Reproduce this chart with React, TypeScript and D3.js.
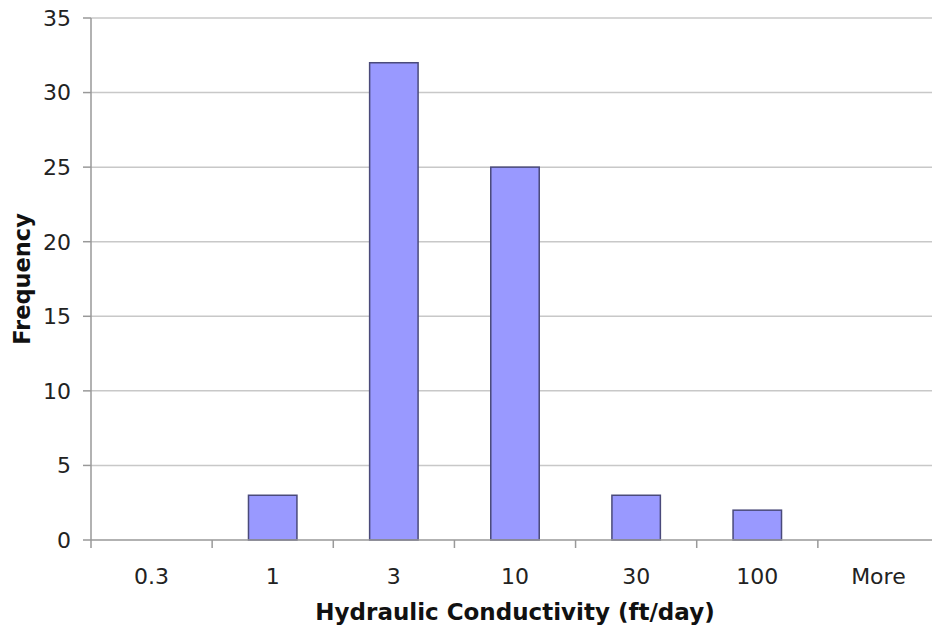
import * as d3 from 'd3';
import React from 'react';

// histogram bins and counts
const bins: string[] = ['0.3', '1', '3', '10', '30', '100', 'More'];
const counts: number[] = [0, 3, 32, 25, 3, 2, 0];
const yTicks: number[] = [0, 5, 10, 15, 20, 25, 30, 35];

const width = 932;
const height = 630;
const marginLeft = 91;
const marginTop = 18;
const plotBottom = 540;
const plotRight = 939; // plot runs a little past the right edge

const App: React.FC = () => {
    const x = d3.scaleBand<string>().domain(bins).range([marginLeft, plotRight]).paddingInner(0.6).paddingOuter(0.3);
    const xEdge = d3.scaleLinear().domain([0, bins.length]).range([marginLeft, plotRight]);
    const y = d3.scaleLinear().domain([0, 35]).range([plotBottom, marginTop]);

    const font = 'Verdana, "DejaVu Sans", sans-serif';

    return (
        <svg width={width} height={height} style={{ position: 'absolute', left: 0, top: 0, background: '#fff' }}>
            {/* grid */}
            <g stroke="#c8c8c8" strokeWidth={1.5}>
                {yTicks.filter((t) => t > 0).map((t) => (
                    <line key={t} x1={marginLeft} x2={width} y1={y(t)} y2={y(t)} />
                ))}
            </g>
            {/* y axis */}
            <g stroke="#999" strokeWidth={1.5}>
                <line x1={marginLeft} x2={marginLeft} y1={marginTop} y2={plotBottom} />
                {yTicks.map((t) => (
                    <line key={t} x1={marginLeft - 8} x2={marginLeft} y1={y(t)} y2={y(t)} />
                ))}
            </g>
            <g fontFamily={font} fontSize={22} fill="#222" textAnchor="end">
                {yTicks.map((t) => (
                    <text key={t} x={71} y={y(t)} dy="0.36em">
                        {t}
                    </text>
                ))}
            </g>
            {/* bars */}
            <g fill="#9999ff" stroke="#4a4a7a" strokeWidth={1.5}>
                {bins.map((b, i) =>
                    counts[i] > 0 ? (
                        <rect key={b} x={x(b)} y={y(counts[i])} width={x.bandwidth()} height={plotBottom - y(counts[i])} />
                    ) : null
                )}
            </g>
            {/* x axis */}
            <g stroke="#999" strokeWidth={1.5}>
                <line x1={marginLeft} x2={width} y1={plotBottom} y2={plotBottom} />
                {d3.range(bins.length + 1).map((i) => (
                    <line key={i} x1={xEdge(i)} x2={xEdge(i)} y1={plotBottom} y2={plotBottom + 8} />
                ))}
            </g>
            <g fontFamily={font} fontSize={22} fill="#222" textAnchor="middle">
                {bins.map((b) => (
                    <text key={b} x={(x(b) ?? 0) + x.bandwidth() / 2} y={576} dy="0.36em">
                        {b}
                    </text>
                ))}
            </g>
            <text x={515} y={612} dy="0.36em" textAnchor="middle" fontFamily={font} fontSize={23} fontWeight="bold" fill="#111">
                Hydraulic Conductivity (ft/day)
            </text>
            <text
                transform={`translate(22,${(marginTop + plotBottom) / 2}) rotate(-90)`}
                dy="0.36em"
                textAnchor="middle"
                fontFamily={font}
                fontSize={22.5}
                fontWeight="bold"
                fill="#111"
            >
                Frequency
            </text>
        </svg>
    );
};

export default App;
